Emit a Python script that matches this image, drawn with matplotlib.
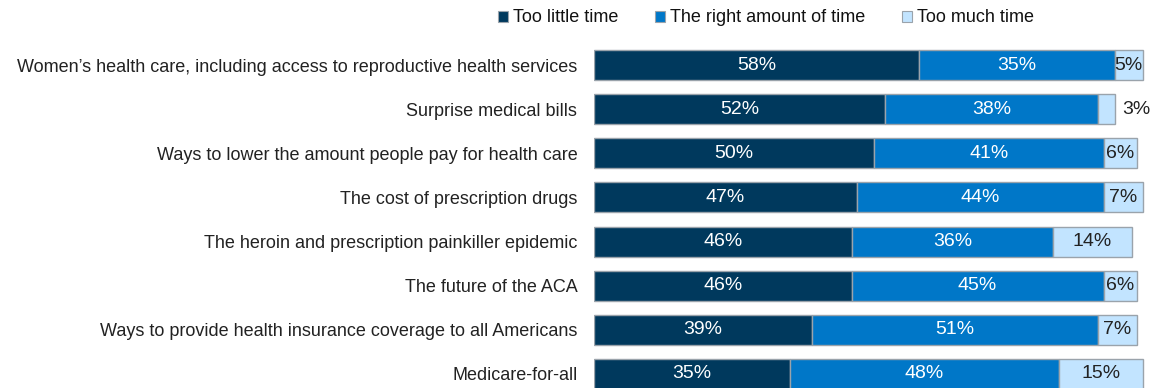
import matplotlib
matplotlib.use("Agg")
import matplotlib.pyplot as plt
from matplotlib.patches import Patch

plt.rcParams["font.family"] = ["Liberation Sans", "DejaVu Sans"]

categories = [
    "Women\u2019s health care, including access to reproductive health services",
    "Surprise medical bills",
    "Ways to lower the amount people pay for health care",
    "The cost of prescription drugs",
    "The heroin and prescription painkiller epidemic",
    "The future of the ACA",
    "Ways to provide health insurance coverage to all Americans",
    "Medicare-for-all",
]
too_little = [58, 52, 50, 47, 46, 46, 39, 35]
right_amount = [35, 38, 41, 44, 36, 45, 51, 48]
too_much = [5, 3, 6, 7, 14, 6, 7, 15]

series_names = ["Too little time", "The right amount of time", "Too much time"]
colors = ["#00395D", "#0077C8", "#C2E4FF"]
text_colors = ["white", "white", "#222222"]

W, H = 1159, 388
fig = plt.figure(figsize=(W / 100, H / 100), dpi=100)
ax_top = 43
ax = fig.add_axes([594 / W, 0, (1154 - 594) / W, (H - ax_top) / H])

rows = range(len(categories))
left = [0] * len(categories)
for vals, col, tcol in zip([too_little, right_amount, too_much], colors, text_colors):
    ax.barh(rows, vals, left=left, height=0.68, color=col,
            edgecolor="#9AA3AB", linewidth=1.0)
    for i, (v, l) in enumerate(zip(vals, left)):
        x = l + v / 2
        if v <= 3:
            x = l + v + 3.8
        ax.text(x, i, f"{v}%", ha="center", va="center", fontsize=14,
                color=tcol)
    left = [l + v for l, v in zip(left, vals)]

ax.set_xlim(0, 100)
ax.set_ylim(7.32, -0.5)
ax.set_yticks(list(rows))
ax.set_yticklabels(categories, fontsize=13, color="#222222")
ax.tick_params(axis="y", length=0, pad=12)
ax.set_xticks([])
for s in ax.spines.values():
    s.set_visible(False)

handles = [Patch(facecolor=c, edgecolor="#9AA3AB", linewidth=0.8) for c in colors]
fig.legend(handles, series_names, loc="center", bbox_to_anchor=(766 / W, 1 - 18 / H),
           ncol=3, frameon=False, fontsize=13, handlelength=0.55, handleheight=0.55,
           handletextpad=0.3, columnspacing=2.0, labelcolor="#111111")

fig.savefig("out.png", dpi=100)
